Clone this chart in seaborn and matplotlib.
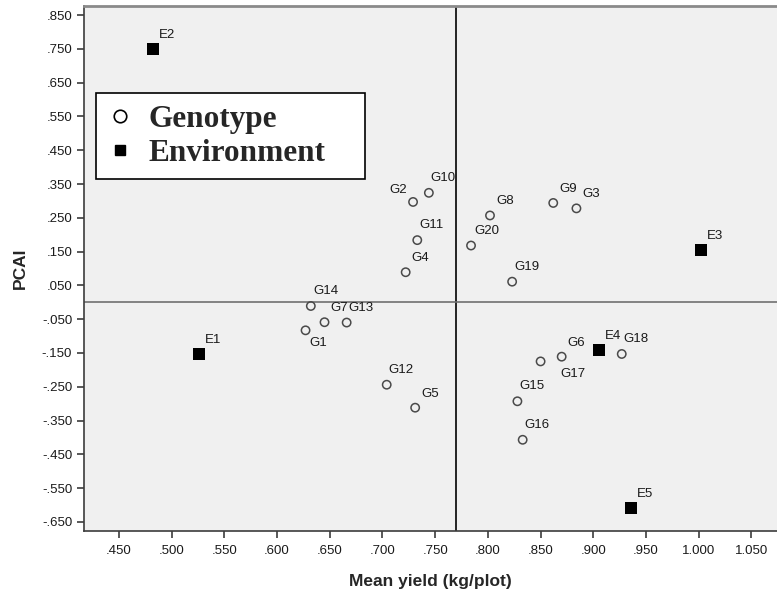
import numpy as np
import pandas as pd
import matplotlib
matplotlib.use("Agg")
import matplotlib.pyplot as plt
import seaborn as sns
from matplotlib.lines import Line2D
from matplotlib.ticker import FuncFormatter

# values
genotypes = ['G1', 'G2', 'G3', 'G4', 'G5', 'G6', 'G7', 'G8', 'G9', 'G10',
             'G11', 'G12', 'G13', 'G14', 'G15', 'G16', 'G17', 'G18', 'G19', 'G20']
geno_yield = [0.627, 0.729, 0.884, 0.722, 0.731, 0.870, 0.645, 0.802, 0.862, 0.744,
              0.733, 0.704, 0.666, 0.632, 0.828, 0.833, 0.850, 0.927, 0.823, 0.784]
geno_pcai = [-0.083, 0.297, 0.278, 0.089, -0.312, -0.161, -0.059, 0.257, 0.294, 0.324,
             0.184, -0.244, -0.060, -0.011, -0.293, -0.407, -0.175, -0.153, 0.061, 0.168]

environments = ['E1', 'E2', 'E3', 'E4', 'E5']
env_yield = [0.526, 0.482, 1.002, 0.905, 0.936]
env_pcai = [-0.154, 0.749, 0.154, -0.142, -0.609]

x_ticks = [0.45, 0.50, 0.55, 0.60, 0.65, 0.70, 0.75, 0.80, 0.85, 0.90, 0.95, 1.00, 1.05]
y_ticks = [-0.65, -0.55, -0.45, -0.35, -0.25, -0.15, -0.05, 0.05, 0.15, 0.25, 0.35, 0.45, 0.55, 0.65, 0.75, 0.85]

geno_df = pd.DataFrame({"name": genotypes, "yield": geno_yield, "pcai": geno_pcai})
env_df = pd.DataFrame({"name": environments, "yield": env_yield, "pcai": env_pcai})
mean_yield = env_df["yield"].mean()

# label placement tweaks (pixels from the point), default is up-right
label_pos = {
    'G2': (-6, 12, 'right'), 'G1': (4, -13, 'left'), 'G17': (20, -13, 'left'),
    'G10': (2, 15, 'left'), 'G11': (2, 15, 'left'), 'G12': (2, 15, 'left'),
    'G13': (2, 15, 'left'), 'G14': (3, 15, 'left'), 'G15': (2, 15, 'left'),
    'G16': (2, 15, 'left'), 'G18': (2, 15, 'left'), 'G19': (2, 15, 'left'),
    'G20': (3, 15, 'left'),
}

sns.set_style("white")
plt.rcParams['font.family'] = ['Liberation Sans', 'DejaVu Sans']

fig = plt.figure(figsize=(7.77, 5.95), dpi=100)
ax = fig.add_axes([84 / 777, 1 - 531 / 595, 693 / 777, 525 / 595])
ax.set_facecolor('#f0f0f0')

ax.axvline(mean_yield, color='black', lw=1.2, zorder=1)
ax.axhline(0, color='#707070', lw=1.2, zorder=1)

sns.scatterplot(data=geno_df, x="yield", y="pcai", marker='o', s=36, color='#4a4a4a',
                linewidth=1.1, ax=ax, legend=False, zorder=3)
ax.collections[-1].set_facecolor('none')
ax.collections[-1].set_edgecolor('#4a4a4a')
sns.scatterplot(data=env_df, x="yield", y="pcai", marker='s', s=68, color='black',
                linewidth=0, ax=ax, legend=False, zorder=3)

for df in [geno_df, env_df]:
    for _, r in df.iterrows():
        dx, dy, ha = label_pos.get(r["name"], (6, 14, 'left'))
        ax.annotate(r["name"], (r["yield"], r["pcai"]), xytext=(dx, dy),
                    textcoords='offset pixels', ha=ha, va='center',
                    fontsize=9.5, color='#1a1a1a')

ax.set_xlim(0.4168, 1.0743)
ax.set_ylim(-0.677, 0.877)
ax.set_xticks(x_ticks)
ax.set_yticks(y_ticks)

def spss_fmt(v, pos):
    s = f"{v:.3f}"
    if abs(v) < 1:
        s = s.replace("0.", ".", 1)
    return s

ax.xaxis.set_major_formatter(FuncFormatter(spss_fmt))
ax.yaxis.set_major_formatter(FuncFormatter(spss_fmt))
ax.tick_params(axis='both', direction='out', length=5, width=1.2, color='#3c3c3c',
               labelsize=9.5, labelcolor='#1a1a1a', bottom=True, left=True)
ax.tick_params(axis='x', pad=5)
ax.tick_params(axis='y', pad=3.5)

ax.spines['right'].set_visible(False)
ax.spines['top'].set_color('#8a8a8a')
ax.spines['top'].set_linewidth(2)
for side in ['left', 'bottom']:
    ax.spines[side].set_color('#3c3c3c')
    ax.spines[side].set_linewidth(1.2)

ax.set_xlabel('Mean yield (kg/plot)', fontsize=12.5, fontweight='bold', labelpad=12)
ax.set_ylabel('PCAI', fontsize=12.5, fontweight='bold', labelpad=10)

handles = [
    Line2D([], [], marker='o', ls='', mfc='none', mec='black', ms=9, mew=1.2),
    Line2D([], [], marker='s', ls='', mfc='black', mec='black', ms=6.5),
]
leg = ax.legend(handles, ['Genotype', 'Environment'], loc='upper left',
                bbox_to_anchor=(0.0177, 0.666, 0.388, 0.1676), mode='expand',
                prop=dict(family='Liberation Serif', weight='bold', size=22.5),
                frameon=True, fancybox=False, edgecolor='black', framealpha=1,
                borderpad=0.37, handlelength=0.8, handletextpad=0.49,
                labelspacing=0.15, borderaxespad=0)
leg.get_frame().set_linewidth(1.2)

fig.savefig('out.png', dpi=100)
